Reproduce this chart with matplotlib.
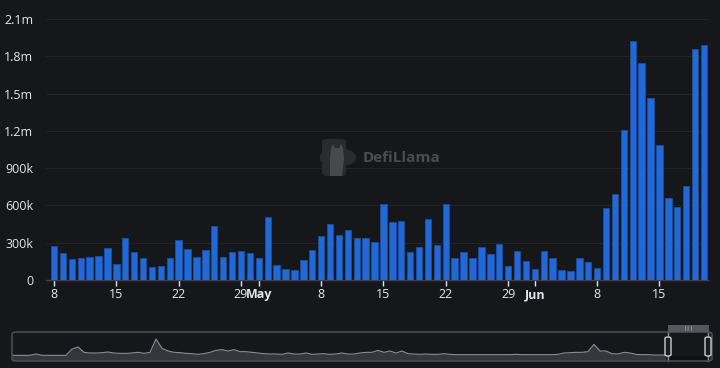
import numpy as np
import pandas as pd
import matplotlib
matplotlib.use("Agg")
import matplotlib.pyplot as plt
from matplotlib.patches import Rectangle, FancyBboxPatch, Circle, Polygon

plt.rcParams['font.family'] = ['Open Sans', 'DejaVu Sans']

# daily volume, Apr 8 -> Jun 20 (thousands)
days = pd.date_range("2024-04-08", "2024-06-20", freq="D")
vol_apr = [276, 216, 168, 176, 189, 192, 257, 127, 335, 222, 178, 103, 116, 181,
           319, 251, 184, 240, 435, 189, 222, 230, 216]
vol_may = [178, 508, 124, 92, 81, 157, 238, 354, 448, 359, 402, 335, 338, 303,
           613, 470, 476, 224, 265, 489, 284, 611, 178, 224, 176, 262, 208, 292,
           111, 232, 151]
vol_jun = [86, 232, 173, 84, 73, 176, 143, 97, 578, 692, 1203, 1927, 1749, 1468,
           1089, 662, 589, 757, 1862, 1889]
volume = np.array(vol_apr + vol_may + vol_jun) * 1000

yticks = [0, 300e3, 600e3, 900e3, 1.2e6, 1.5e6, 1.8e6, 2.1e6]
ylabels = ["0", "300k", "600k", "900k", "1.2m", "1.5m", "1.8m", "2.1m"]
xtick_dates = ["2024-04-08", "2024-04-15", "2024-04-22", "2024-04-29", "2024-05-01",
               "2024-05-08", "2024-05-15", "2024-05-22", "2024-05-29", "2024-06-01",
               "2024-06-08", "2024-06-15"]
xlabels = ["8", "15", "22", "29", "May", "8", "15", "22", "29", "Jun", "8", "15"]

# full-history overview shown in the slider (relative heights)
overview = [1, 1, 1, 1, 5, 1, 1, 1, 1, 1, 20, 26, 10, 8, 8, 9, 11, 8, 7, 7,
            8, 10, 7, 10, 50, 22, 14, 10, 9, 7, 6, 4, 6, 10, 16, 18, 14, 18, 12, 12,
            10, 8, 6, 5, 5, 4, 8, 5, 5, 8, 4, 5, 6, 4, 5, 8, 5, 5, 8, 10,
            10, 16, 10, 14, 8, 14, 6, 5, 4, 5, 4, 4, 6, 4, 3, 3, 3, 3, 3, 3,
            3, 3, 3, 3, 4, 3, 3, 3, 3, 3, 3, 4, 8, 9, 10, 10, 12, 34, 14, 14,
            6, 5, 10, 8, 4, 3, 3, 2, 2, 2]

BG = "#16171a"
W, H = 720, 368

fig = plt.figure(figsize=(7.2, 3.68), dpi=100, facecolor=BG)

def fx(px):
    return px / W

def fy(py):
    return 1 - py / H

# main chart
ax = fig.add_axes([fx(46), fy(280), fx(708) - fx(46), fy(19) - fy(280)])
ax.set_facecolor(BG)
x = np.arange(len(volume))
ax.bar(x, volume, width=0.72, color="#2169d8", edgecolor="#1b4f9e", linewidth=0.6, zorder=3)
ax.set_xlim(-0.9, 73.45)
ax.set_ylim(0, 2.1e6)
ax.set_yticks(yticks)
ax.set_yticklabels(ylabels)
ax.yaxis.grid(True, color="#232428", linewidth=0.8, zorder=0)
for s in ["top", "right", "left"]:
    ax.spines[s].set_visible(False)
ax.spines["bottom"].set_color("#3e4350")
ax.spines["bottom"].set_linewidth(1.0)
xt = [(pd.Timestamp(d) - days[0]).days for d in xtick_dates]
ax.set_xticks(xt)
ax.tick_params(axis="y", length=0, pad=9, labelcolor="#e6e6e6", labelsize=9)
ax.tick_params(axis="x", length=4, width=1, color="#e6e6e6", pad=2, labelcolor="#e6e6e6", labelsize=9)
xl = ax.set_xticklabels(xlabels)
for lab in xl:
    if lab.get_text() in ("May", "Jun"):
        lab.set_fontweight("bold")

# watermark
fig.patches.append(FancyBboxPatch((fx(322), fy(176)), fx(346) - fx(322), fy(139) - fy(176),
                                  boxstyle="round,pad=0,rounding_size=0.008",
                                  transform=fig.transFigure, facecolor="#2a2b2f",
                                  edgecolor="none", zorder=1))
fig.patches.append(Circle((fx(338), fy(157.5)), 0.0255, transform=fig.transFigure,
                          facecolor="#2a2b2f", edgecolor="none", zorder=1))
# llama silhouette
fig.patches.append(Polygon([(fx(330), fy(176)), (fx(330), fy(158)), (fx(331), fy(148)),
                            (fx(333), fy(144)), (fx(335), fy(148)), (fx(339), fy(148)),
                            (fx(341), fy(144)), (fx(343), fy(148)), (fx(344), fy(158)),
                            (fx(342), fy(176))],
                           closed=True, transform=fig.transFigure,
                           facecolor="#48494d", edgecolor="none", zorder=2))
fig.text(fx(363), fy(158), "DefiLlama", color="#4b4c50", fontsize=11,
         fontweight="bold", va="center", ha="left")

# slider / overview
sa = fig.add_axes([fx(12), fy(361), fx(712) - fx(12), fy(332) - fy(361)])
sa.set_facecolor(BG)
sa.set_xlim(0, 116.67)
sa.set_ylim(-16, 71)
ox = np.arange(len(overview))
sa.fill_between(ox, -16, overview, color="#35373c", linewidth=0)
sa.plot(ox, overview, color="#8b8e94", linewidth=0.8)
sa.add_patch(Rectangle((109.33, -16), 6.84, 14, facecolor="#0e0f11", edgecolor="none"))
sa.set_xticks([])
sa.set_yticks([])
for s in sa.spines.values():
    s.set_visible(False)

fig.patches.append(FancyBboxPatch((fx(12), fy(361)), fx(712) - fx(12), fy(332) - fy(361),
                                  boxstyle="round,pad=0,rounding_size=0.006",
                                  transform=fig.transFigure, facecolor="none",
                                  edgecolor="#4a4c51", linewidth=1.2, zorder=5))
# selected window
fig.patches.append(Rectangle((fx(668), fy(332)), fx(709) - fx(668), fy(325) - fy(332),
                             transform=fig.transFigure, facecolor="#55575c",
                             edgecolor="none", zorder=5))
fig.text(fx(688.5), fy(328.5), "|||", color="#dddddd", fontsize=4.5,
         ha="center", va="center", zorder=6)
for hx in (668, 708):
    fig.lines.append(plt.Line2D([fx(hx), fx(hx)], [fy(361), fy(332)],
                                transform=fig.transFigure, color="#8d9096",
                                linewidth=1.0, zorder=5))
    fig.patches.append(FancyBboxPatch((fx(hx - 3), fy(356)), fx(6), fy(337) - fy(356),
                                      boxstyle="round,pad=0,rounding_size=0.004",
                                      transform=fig.transFigure, facecolor="#1b1c1f",
                                      edgecolor="#c9ccd1", linewidth=1.0, zorder=6))

fig.savefig("out.png", dpi=100, facecolor=BG)
